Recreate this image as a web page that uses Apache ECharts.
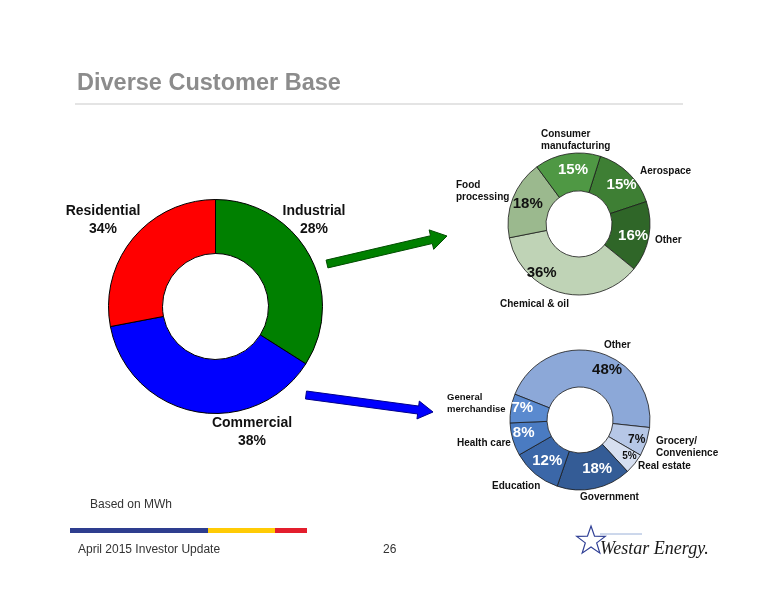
<!DOCTYPE html>
<html>
<head>
<meta charset="utf-8">
<script src="https://cdn.jsdelivr.net/npm/echarts@6/dist/echarts.min.js"></script>
<style>
html,body{margin:0;padding:0;background:#fff;}
#chart{width:776px;height:600px;}
</style>
</head>
<body>
<div id="chart"></div>
<script>
// ---- Data ----
var mainCategories = ['Industrial', 'Commercial', 'Residential'];
var mainSliceValues = [34, 38, 28];          // slice sizes as drawn
var mainLabelPercents = ['28%', '38%', '34%']; // percentages as printed
var mainColors = ['#008000', '#0000FF', '#FF0000'];

var industrialCategories = ['Aerospace', 'Other', 'Chemical & oil', 'Food processing', 'Consumer manufacturing'];
var industrialValues = [15, 16, 36, 18, 15];
var industrialColors = ['#3E7F34', '#2F6628', '#BFD3B6', '#9BB98E', '#4F9844'];
var industrialLabelColors = ['#fff', '#fff', '#111', '#111', '#fff'];
var industrialLabelOffsets = [[4, 0], [0, 2], [-24, -5], [0, 0], [3, 0]];
var industrialNameLabels = ['Aerospace', 'Other', 'Chemical & oil', 'Food\nprocessing', 'Consumer\nmanufacturing'];

var commercialCategories = ['Other', 'Grocery/Convenience', 'Real estate', 'Government', 'Education', 'Health care', 'General merchandise'];
var commercialValues = [48, 7, 5, 18, 12, 8, 7];
var commercialColors = ['#8CA8D8', '#B6C7E6', '#D6DFF0', '#345C96', '#3B67A8', '#4A7BC2', '#5A8ACF'];
var commercialLabelColors = ['#111', '#111', '#111', '#fff', '#fff', '#fff', '#fff'];
var commercialLabelSizes = [15, 12, 10, 15, 15, 15, 15];
var commercialLabelOffsets = [[14, 3], [5, 3], [7, 2], [6, -4], [2, -1], [-4, -2], [-4, -3]];
var commercialNameLabels = ['Other', 'Grocery/\nConvenience', 'Real estate', 'Government', 'Education', 'Health care', 'General\nmerchandise'];

var titleText = 'Diverse Customer Base';
var noteText = 'Based on MWh';
var footerText = 'April 2015 Investor Update';
var pageNumber = '26';
var logoText = 'Westar Energy.';

// ---- Build ----
var FONT = '"Liberation Sans", Arial, sans-serif';
var chart = echarts.init(document.getElementById('chart'), null, {renderer: 'canvas'});

function arrow(tail, tip, shaftHalf, headLen, headHalf, fill, stroke) {
  var dx = tip[0] - tail[0], dy = tip[1] - tail[1];
  var L = Math.sqrt(dx * dx + dy * dy);
  var ux = dx / L, uy = dy / L, nx = -uy, ny = ux;
  var bx = tip[0] - ux * headLen, by = tip[1] - uy * headLen;
  var pts = [
    [tail[0] + nx * shaftHalf, tail[1] + ny * shaftHalf],
    [bx + nx * shaftHalf, by + ny * shaftHalf],
    [bx + nx * headHalf, by + ny * headHalf],
    [tip[0], tip[1]],
    [bx - nx * headHalf, by - ny * headHalf],
    [bx - nx * shaftHalf, by - ny * shaftHalf],
    [tail[0] - nx * shaftHalf, tail[1] - ny * shaftHalf]
  ];
  return {type: 'polygon', z: 10, shape: {points: pts}, style: {fill: fill, stroke: stroke, lineWidth: 1}, silent: true};
}

function starPoints(cx, cy, R, r) {
  var pts = [];
  for (var i = 0; i < 10; i++) {
    var a = -Math.PI / 2 + i * Math.PI / 5;
    var rad = i % 2 === 0 ? R : r;
    pts.push([cx + Math.cos(a) * rad, cy + Math.sin(a) * rad]);
  }
  return pts;
}

function txt(x, y, text, opts) {
  opts = opts || {};
  return {
    type: 'text', x: x, y: y, z: 10, silent: true,
    style: {
      text: text,
      font: opts.font || ('bold 10px ' + FONT),
      fill: opts.fill || '#111',
      textAlign: opts.align || 'left',
      textVerticalAlign: 'middle',
      lineHeight: opts.lh || 12
    }
  };
}

var graphics = [];
graphics.push(txt(77, 84, titleText, {font: 'bold 23.5px ' + FONT, fill: '#8C8C8C'}));
graphics.push({type: 'line', z: 10, shape: {x1: 75, y1: 104, x2: 683, y2: 104}, style: {stroke: '#E4E4E4', lineWidth: 2}, silent: true});

// main donut labels
graphics.push(txt(103, 220, mainCategories[2] + '\n' + mainLabelPercents[2], {font: 'bold 14px ' + FONT, align: 'center', lh: 18}));
graphics.push(txt(314, 220, mainCategories[0] + '\n' + mainLabelPercents[0], {font: 'bold 14px ' + FONT, align: 'center', lh: 18}));
graphics.push(txt(252, 432, mainCategories[1] + '\n' + mainLabelPercents[1], {font: 'bold 14px ' + FONT, align: 'center', lh: 18}));

// arrows
graphics.push(arrow([327, 264], [447, 236], 4, 16, 10, '#008000', '#004d00'));
graphics.push(arrow([306, 395], [433, 412], 4, 15, 9, '#0000FF', '#00008B'));

// industrial names
graphics.push(txt(541, 140, industrialNameLabels[4]));
graphics.push(txt(640, 171, industrialNameLabels[0]));
graphics.push(txt(456, 191, industrialNameLabels[3]));
graphics.push(txt(655, 240, industrialNameLabels[1]));
graphics.push(txt(500, 304, industrialNameLabels[2]));

// commercial names
graphics.push(txt(604, 345, commercialNameLabels[0]));
graphics.push(txt(447, 403, commercialNameLabels[6], {font: 'bold 9.5px ' + FONT}));
graphics.push(txt(457, 443, commercialNameLabels[5]));
graphics.push(txt(492, 486, commercialNameLabels[4]));
graphics.push(txt(580, 497, commercialNameLabels[3]));
graphics.push(txt(656, 447, commercialNameLabels[1]));
graphics.push(txt(638, 466, commercialNameLabels[2]));

// footer
graphics.push(txt(90, 505, noteText, {font: '12px ' + FONT, fill: '#333'}));
graphics.push({type: 'rect', z: 10, shape: {x: 70, y: 528, width: 138, height: 5}, style: {fill: '#2E3E8F'}, silent: true});
graphics.push({type: 'rect', z: 10, shape: {x: 208, y: 528, width: 67, height: 5}, style: {fill: '#FFCB05'}, silent: true});
graphics.push({type: 'rect', z: 10, shape: {x: 275, y: 528, width: 32, height: 5}, style: {fill: '#E31E2D'}, silent: true});
graphics.push(txt(78, 550, footerText, {font: '12px ' + FONT, fill: '#333'}));
graphics.push(txt(383, 550, pageNumber, {font: '12px ' + FONT, fill: '#333'}));

// logo
graphics.push({type: 'polygon', z: 10, shape: {points: starPoints(591, 541, 15, 6)}, style: {fill: 'none', stroke: '#2F3F95', lineWidth: 1.2}, silent: true});
graphics.push({type: 'line', z: 10, shape: {x1: 600, y1: 534, x2: 642, y2: 534}, style: {stroke: '#9AB0D8', lineWidth: 1}, silent: true});
graphics.push(txt(600, 549, logoText, {font: 'italic 18px "Liberation Serif", "Times New Roman", serif', fill: '#1a1a1a'}));

function pieData(cats, vals, colors, labelColors, sizes, offsets) {
  return cats.map(function (c, i) {
    return {
      name: c, value: vals[i],
      itemStyle: {color: colors[i]},
      label: {
        color: labelColors ? labelColors[i] : '#fff',
        fontSize: sizes ? sizes[i] : 15,
        offset: offsets ? offsets[i] : [0, 0]
      }
    };
  });
}

var option = {
  animation: false,
  backgroundColor: '#fff',
  series: [
    {
      type: 'pie', silent: true,
      center: [215.5, 306.5], radius: [53, 107],
      startAngle: 90, clockwise: true,
      itemStyle: {borderColor: '#000', borderWidth: 1},
      label: {show: false}, labelLine: {show: false},
      data: pieData(mainCategories, mainSliceValues, mainColors)
    },
    {
      type: 'pie', silent: true,
      center: [579, 224], radius: [33, 71],
      startAngle: 72.4, clockwise: true,
      itemStyle: {borderColor: '#1a1a1a', borderWidth: 0.8},
      label: {show: true, position: 'inside', formatter: '{c}%', fontWeight: 'bold', fontFamily: FONT},
      labelLine: {show: false},
      data: pieData(industrialCategories, industrialValues, industrialColors, industrialLabelColors, null, industrialLabelOffsets)
    },
    {
      type: 'pie', silent: true,
      center: [580, 420], radius: [33, 70],
      startAngle: 158.4, clockwise: true,
      itemStyle: {borderColor: '#1a1a1a', borderWidth: 0.8},
      label: {show: true, position: 'inside', formatter: '{c}%', fontWeight: 'bold', fontFamily: FONT},
      labelLine: {show: false},
      data: pieData(commercialCategories, commercialValues, commercialColors, commercialLabelColors, commercialLabelSizes, commercialLabelOffsets)
    }
  ],
  graphic: {elements: graphics}
};
chart.setOption(option);
</script>
</body>
</html>
